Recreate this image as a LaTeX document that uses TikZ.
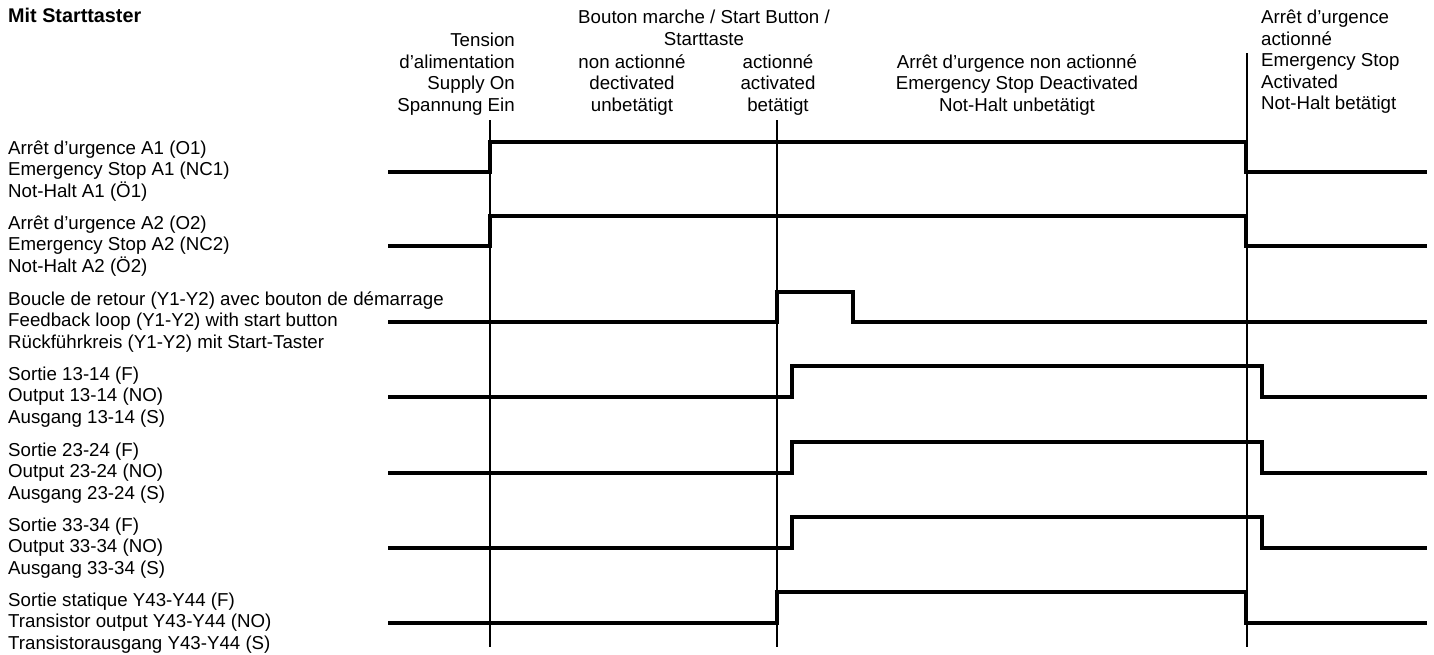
\documentclass[tikz,border=0pt]{standalone}
\usepackage{fontspec}
\setmainfont{Liberation Sans}
\begin{document}
\begin{tikzpicture}[x=1pt,y=-1pt,
  txt/.style={inner sep=0pt,font=\fontsize{18.7pt}{21.5pt}\selectfont},
  lbl/.style={txt,anchor=west,align=left},
  wave/.style={line width=4pt,line join=miter},
  marker/.style={line width=2pt}]
\useasboundingbox (0,0) rectangle (1434,654);
% title
\node[txt,anchor=west,font=\fontsize{19.8pt}{22pt}\selectfont\bfseries] (title) at (8,15) {Mit Starttaster};
% top labels
\node[txt,anchor=east,align=right] (supply) at (515,74) {Tension\\d’alimentation\\Supply On\\Spannung Ein};
\node[txt,align=center] (button) at (704,28) {Bouton marche / Start Button /\\Starttaste};
\node[txt,align=center] (notact) at (632,85) {non actionné\\dectivated\\unbetätigt};
\node[txt,align=center] (act) at (778,85) {actionné\\activated\\betätigt};
\node[txt,align=center] (esoff) at (1017,85) {Arrêt d’urgence non actionné\\Emergency Stop Deactivated\\Not-Halt unbetätigt};
\node[txt,anchor=west,align=left] (eson) at (1261,62) {Arrêt d’urgence\\actionné\\Emergency Stop\\Activated\\Not-Halt betätigt};
% row labels
\node[lbl] (r1) at (8,171) {Arrêt d’urgence A1 (O1)\\Emergency Stop A1 (NC1)\\Not-Halt A1 (Ö1)};
\node[lbl] (r2) at (8,246) {Arrêt d’urgence A2 (O2)\\Emergency Stop A2 (NC2)\\Not-Halt A2 (Ö2)};
\node[lbl] (r3) at (8,322) {Boucle de retour (Y1-Y2) avec bouton de démarrage\\Feedback loop (Y1-Y2) with start button\\Rückführkreis (Y1-Y2) mit Start-Taster};
\node[lbl] (r4) at (8,397) {Sortie 13-14 (F)\\Output 13-14 (NO)\\Ausgang 13-14 (S)};
\node[lbl] (r5) at (8,473) {Sortie 23-24 (F)\\Output 23-24 (NO)\\Ausgang 23-24 (S)};
\node[lbl] (r6) at (8,548) {Sortie 33-34 (F)\\Output 33-34 (NO)\\Ausgang 33-34 (S)};
\node[lbl] (r7) at (8,623) {Sortie statique Y43-Y44 (F)\\Transistor output Y43-Y44 (NO)\\Transistorausgang Y43-Y44 (S)};
% marker lines
\coordinate (m1t) at (490,120); \coordinate (m1b) at (490,647);
\coordinate (m2t) at (777,120); \coordinate (m2b) at (777,647);
\coordinate (m3t) at (1247,53); \coordinate (m3b) at (1247,647);
\draw[marker] (m1t) -- (m1b);
\draw[marker] (m2t) -- (m2b);
\draw[marker] (m3t) -- (m3b);
% waveforms
\draw[wave] (388,172) -- (490,172) -- (490,142) -- (1246,142) -- (1246,172) -- (1427,172);
\draw[wave] (388,246) -- (490,246) -- (490,216) -- (1246,216) -- (1246,246) -- (1427,246);
\draw[wave] (388,322) -- (777,322) -- (777,292) -- (853,292) -- (853,322) -- (1427,322);
\draw[wave] (388,397) -- (792,397) -- (792,366) -- (1262,366) -- (1262,397) -- (1427,397);
\draw[wave] (388,473) -- (792,473) -- (792,442) -- (1262,442) -- (1262,473) -- (1427,473);
\draw[wave] (388,548) -- (792,548) -- (792,517) -- (1262,517) -- (1262,548) -- (1427,548);
\draw[wave] (388,623) -- (777,623) -- (777,592) -- (1246,592) -- (1246,623) -- (1427,623);
\end{tikzpicture}
\end{document}
